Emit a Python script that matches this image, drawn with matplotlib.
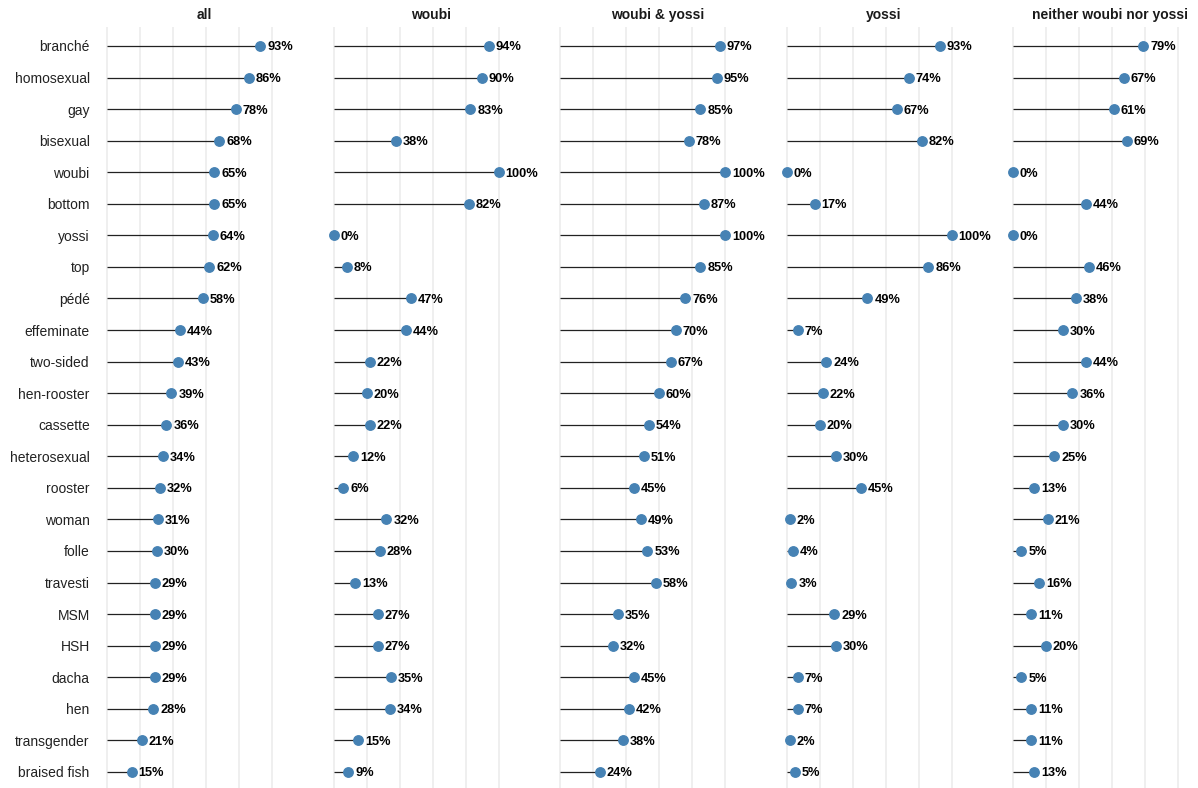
import matplotlib.pyplot as plt
import numpy as np

plt.rcParams['font.family'] = ['Liberation Sans', 'DejaVu Sans']

# terms, top to bottom
terms = ["branché", "homosexual", "gay", "bisexual", "woubi", "bottom", "yossi", "top",
         "pédé", "effeminate", "two-sided", "hen-rooster", "cassette", "heterosexual",
         "rooster", "woman", "folle", "travesti", "MSM", "HSH", "dacha", "hen",
         "transgender", "braised fish"]

panels = ["all", "woubi", "woubi & yossi", "yossi", "neither woubi nor yossi"]

pct_all = [93, 86, 78, 68, 65, 65, 64, 62, 58, 44, 43, 39, 36, 34, 32, 31, 30, 29, 29, 29, 29, 28, 21, 15]
pct_woubi = [94, 90, 83, 38, 100, 82, 0, 8, 47, 44, 22, 20, 22, 12, 6, 32, 28, 13, 27, 27, 35, 34, 15, 9]
pct_both = [97, 95, 85, 78, 100, 87, 100, 85, 76, 70, 67, 60, 54, 51, 45, 49, 53, 58, 35, 32, 45, 42, 38, 24]
pct_yossi = [93, 74, 67, 82, 0, 17, 100, 86, 49, 7, 24, 22, 20, 30, 45, 2, 4, 3, 29, 30, 7, 7, 2, 5]
pct_neither = [79, 67, 61, 69, 0, 44, 0, 46, 38, 30, 44, 36, 30, 25, 13, 21, 5, 16, 11, 20, 5, 11, 11, 13]

series = [pct_all, pct_woubi, pct_both, pct_yossi, pct_neither]

W, H = 1198, 788
fig = plt.figure(figsize=(W / 100, H / 100), dpi=100)

# layout in pixels
scale = 165.0          # px per 100%
x_lo, x_hi = -0.05, 1.23
top_px = 27
row_px = 31.565
y_lo, y_hi = -0.6, 23.55

ypos = np.arange(len(terms))

for i, (name, vals) in enumerate(zip(panels, series)):
    x0 = 107 + i * 226.5
    left = (x0 + x_lo * scale) / W
    width = (x_hi - x_lo) * scale / W
    height = (y_hi - y_lo) * row_px / H
    bottom = 1 - top_px / H - height
    ax = fig.add_axes([left, bottom, width, height])

    v = np.array(vals) / 100.0
    ax.set_xlim(x_lo, x_hi)
    ax.set_ylim(y_hi, y_lo)
    for gx in np.arange(0, 1.01, 0.2):
        ax.axvline(gx, color='#EBEBEB', lw=1.1, zorder=0)

    ax.hlines(ypos, 0, v, color='#222222', lw=0.9, zorder=2)
    ax.plot(v, ypos, 'o', color='#4682B4', markersize=6.8, zorder=3, clip_on=False)
    for y, val, raw in zip(ypos, v, vals):
        ax.text(val + 0.042, y, f"{raw}%", fontsize=9.2, fontweight='bold',
                va='center_baseline', ha='left', color='black', clip_on=False)

    ax.set_title(name, fontsize=10, fontweight='bold', pad=6, color='#1a1a1a')
    for s in ax.spines.values():
        s.set_visible(False)
    ax.set_xticks([])
    ax.tick_params(axis='y', length=0, pad=6.5)
    if i == 0:
        ax.set_yticks(ypos)
        ax.set_yticklabels(terms, fontsize=10, color='#222222')
    else:
        ax.set_yticks([])

fig.savefig('out.png', dpi=100)
